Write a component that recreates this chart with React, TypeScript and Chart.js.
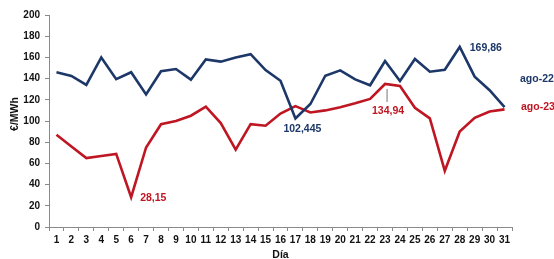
import React, { useEffect, useRef } from "react";
import { Chart, registerables } from "chart.js";

Chart.register(...registerables);

const days: string[] = Array.from({ length: 31 }, (_, i) => String(i + 1));
const ago22: number[] = [146, 142.5, 134, 160, 139.5, 146, 125, 147, 149, 139, 158, 156, 160, 163, 148, 138, 102.445, 116, 142.7, 147.8, 139.3, 133.7, 156.6, 137.7, 158.5, 146.5, 148.4, 169.86, 141.8, 129, 113];
const ago23: number[] = [87, 76, 65, 67, 69, 28.15, 75, 97, 100, 105, 113.5, 98, 73, 97, 95.5, 107, 114, 108, 110, 113, 116.7, 120.8, 134.94, 133, 112.5, 102.5, 53, 90, 103, 109, 111];
const yTicks: number[] = [0, 20, 40, 60, 80, 100, 120, 140, 160, 180, 200];
const seriesNames: string[] = ["ago-22", "ago-23"];

const BLUE = "#1C3768";
const RED = "#BE1622";
const FONT = "'Liberation Sans', Arial, sans-serif";

const annotPlugin = {
  id: "annot",
  afterDraw(chart: any) {
    const ctx = chart.ctx;
    const xs = chart.scales.x;
    const ys = chart.scales.y;
    const pt = (i: number, v: number) => ({ x: xs.getPixelForValue(i), y: ys.getPixelForValue(v) });
    ctx.save();
    ctx.font = `bold 10.5px ${FONT}`;
    ctx.textBaseline = "middle";
    const fmt = (v: number) => String(v).replace(".", ",");

    // max ago-22
    const i28 = ago22.indexOf(Math.max(...ago22));
    let p = pt(i28, ago22[i28]);
    ctx.fillStyle = BLUE;
    ctx.textAlign = "left";
    ctx.fillText(fmt(ago22[i28]), p.x + 10, p.y + 1);

    // min ago-22
    const i17 = ago22.indexOf(Math.min(...ago22));
    p = pt(i17, ago22[i17]);
    ctx.fillText(fmt(ago22[i17]), p.x - 12, p.y + 11);

    // max ago-23
    const i23 = ago23.indexOf(Math.max(...ago23));
    p = pt(i23, ago23[i23]);
    ctx.strokeStyle = "#777";
    ctx.lineWidth = 1;
    ctx.beginPath();
    ctx.moveTo(p.x + 2, p.y + 5);
    ctx.lineTo(p.x + 2, p.y + 18);
    ctx.stroke();
    ctx.fillStyle = RED;
    ctx.textAlign = "center";
    ctx.fillText(fmt(ago23[i23]), p.x + 3, p.y + 27);

    // min ago-23
    const i6 = ago23.indexOf(Math.min(...ago23));
    p = pt(i6, ago23[i6]);
    ctx.textAlign = "left";
    ctx.fillText(fmt(ago23[i6]), p.x + 9, p.y + 1);

    // series names
    const last = days.length - 1;
    ctx.font = `bold 10.5px ${FONT}`;
    ctx.fillStyle = BLUE;
    ctx.fillText(seriesNames[0], xs.right + 8, ys.getPixelForValue(ago22[last]) - 28);
    ctx.fillStyle = RED;
    ctx.fillText(seriesNames[1], xs.right + 9, ys.getPixelForValue(ago23[last]) - 2);

    // axis titles
    ctx.fillStyle = "#111";
    ctx.font = `bold 10.5px ${FONT}`;
    ctx.save();
    ctx.translate(15, (ys.top + ys.bottom) / 2 - 7);
    ctx.rotate(-Math.PI / 2);
    ctx.textAlign = "center";
    ctx.fillText("€/MWh", 0, 0);
    ctx.restore();
    ctx.textAlign = "center";
    ctx.fillText("Día", (xs.left + xs.right) / 2, 255);
    ctx.restore();
  },
};

export default function App() {
  const ref = useRef<HTMLCanvasElement | null>(null);
  useEffect(() => {
    if (!ref.current) return;
    const chart = new Chart(ref.current, {
      type: "line",
      data: {
        labels: days,
        datasets: [
          { label: seriesNames[0], data: ago22, borderColor: BLUE, borderWidth: 2.6, pointRadius: 0, tension: 0, fill: false },
          { label: seriesNames[1], data: ago23, borderColor: RED, borderWidth: 2.6, pointRadius: 0, tension: 0, fill: false },
        ],
      },
      options: {
        animation: false,
        responsive: false,
        maintainAspectRatio: false,
        layout: { padding: { top: 15, right: 42, left: 0, bottom: 0 } },
        plugins: { legend: { display: false }, tooltip: { enabled: false } },
        scales: {
          x: {
            type: "category",
            offset: true,
            grid: { offset: true, drawOnChartArea: false, drawTicks: true, tickLength: 4, color: "#8a8a8a" },
            border: { display: true, color: "#8a8a8a", width: 1 },
            ticks: { color: "#111", font: { family: FONT, size: 10, weight: "bold" }, padding: 3, maxRotation: 0, autoSkip: false },
            afterFit: (s: any) => { s.height = 32; },
          },
          y: {
            min: 0,
            max: 200,
            afterBuildTicks: (s: any) => { s.ticks = yTicks.map((v) => ({ value: v })); },
            grid: { drawOnChartArea: false, drawTicks: true, tickLength: 4, color: "#8a8a8a" },
            border: { display: true, color: "#8a8a8a", width: 1 },
            ticks: { color: "#111", font: { family: FONT, size: 10, weight: "bold" }, padding: 5 },
            afterFit: (s: any) => { s.width = 49; },
          },
        },
      },
      plugins: [annotPlugin],
    } as any);
    return () => chart.destroy();
  }, []);
  return (
    <div style={{ position: "fixed", left: 0, top: 0, width: 554, height: 259, background: "#fff" }}>
      <canvas ref={ref} width={554} height={259} style={{ width: 554, height: 259 }} />
    </div>
  );
}
